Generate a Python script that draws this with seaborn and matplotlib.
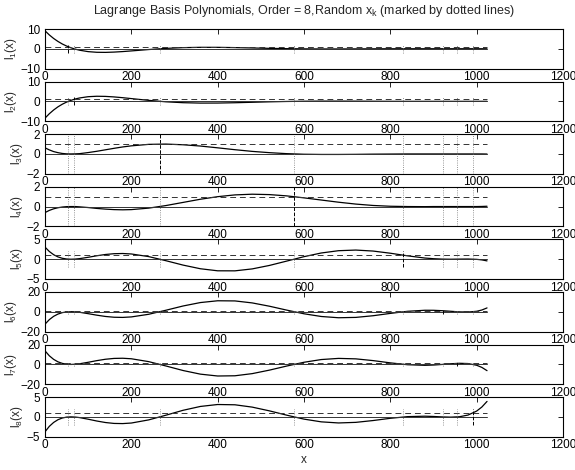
import numpy as np
import pandas as pd
import matplotlib
matplotlib.use('Agg')
from matplotlib import pyplot as plt
import seaborn as sns

sns.set_style('white')
plt.rcParams['font.family'] = ['Liberation Sans', 'DejaVu Sans']
plt.rcParams['mathtext.fontset'] = 'custom'
plt.rcParams['mathtext.rm'] = 'Liberation Sans'
plt.rcParams['mathtext.it'] = 'Liberation Sans'

# node positions x_k (dotted lines)
x_nodes = [54, 67, 266, 577, 830, 923, 955, 992]
y_lims = [10, 10, 2, 2, 5, 20, 20, 5]

# sample positions along x and curve values read for each basis polynomial
x_vals = [0, 10, 20, 30, 40, 50, 60, 70, 80, 100, 120, 140, 160, 180, 200,
          240, 280, 320, 360, 400, 440, 480, 520, 560, 600, 640, 680, 720,
          760, 800, 840, 880, 900, 920, 940, 960, 980, 1000, 1012, 1024]
l1 = [9.09, 7.00, 5.21, 3.70, 2.42, 1.37, 0.50, -0.19, -0.74, -1.46, -1.79, -1.84, -1.69, -1.43, -1.10,
      -0.40, 0.18, 0.56, 0.72, 0.71, 0.58, 0.39, 0.20, 0.05, -0.05, -0.10, -0.10, -0.07,
      -0.04, -0.01, 0.00, 0.00, 0.00, 0.00, 0.00, 0.00, 0.00, 0.00, -0.01, -0.02]
l2 = [-8.50, -6.27, -4.38, -2.78, -1.46, -0.37, 0.50, 1.19, 1.71, 2.36, 2.58, 2.51, 2.24, 1.85, 1.40,
      0.50, -0.23, -0.68, -0.88, -0.86, -0.70, -0.47, -0.24, -0.06, 0.06, 0.12, 0.12, 0.09,
      0.05, 0.01, 0.00, 0.00, 0.00, 0.00, 0.00, 0.00, 0.00, 0.00, 0.01, 0.02]
l3 = [0.62, 0.41, 0.24, 0.13, 0.05, 0.01, 0.00, 0.01, 0.03, 0.14, 0.27, 0.42, 0.57, 0.71, 0.82,
      0.97, 1.00, 0.93, 0.80, 0.62, 0.43, 0.26, 0.13, 0.03, -0.03, -0.05, -0.05, -0.04,
      -0.02, -0.01, 0.00, 0.00, 0.00, 0.00, 0.00, 0.00, 0.00, 0.00, 0.00, -0.01]
l4 = [-0.61, -0.39, -0.23, -0.12, -0.05, -0.01, 0.00, 0.00, -0.03, -0.10, -0.19, -0.26, -0.31, -0.33, -0.31,
      -0.16, 0.10, 0.42, 0.74, 1.00, 1.18, 1.25, 1.21, 1.08, 0.88, 0.66, 0.44, 0.25,
      0.11, 0.03, 0.00, -0.01, 0.00, 0.00, 0.00, 0.00, 0.00, 0.00, 0.01, 0.03]
l5 = [3.05, 1.94, 1.13, 0.57, 0.22, 0.04, -0.02, 0.02, 0.13, 0.47, 0.86, 1.18, 1.38, 1.43, 1.31,
      0.65, -0.39, -1.51, -2.43, -2.95, -2.96, -2.47, -1.59, -0.49, 0.63, 1.56, 2.14, 2.30,
      2.05, 1.50, 0.84, 0.28, 0.11, 0.01, -0.02, 0.01, 0.03, -0.05, -0.19, -0.44]
l6 = [-12.57, -7.98, -4.64, -2.35, -0.91, -0.15, 0.08, -0.09, -0.54, -1.93, -3.47, -4.77, -5.56, -5.73, -5.24,
      -2.58, 1.52, 5.85, 9.31, 11.12, 10.96, 8.95, 5.60, 1.65, -2.05, -4.80, -6.07, -5.72,
      -4.03, -1.67, 0.46, 1.51, 1.47, 1.08, 0.47, -0.13, -0.32, 0.48, 1.76, 3.88]
l7 = [13.68, 8.68, 5.05, 2.55, 0.99, 0.16, -0.09, 0.10, 0.58, 2.09, 3.76, 5.16, 6.01, 6.18, 5.65,
      2.77, -1.63, -6.26, -9.92, -11.80, -11.57, -9.40, -5.84, -1.71, 2.11, 4.86, 6.03, 5.56,
      3.80, 1.50, -0.38, -0.98, -0.69, -0.10, 0.60, 1.07, 0.81, -0.93, -3.09, -6.39]
l8 = [-3.76, -2.38, -1.39, -0.70, -0.27, -0.04, 0.02, -0.03, -0.16, -0.57, -1.03, -1.41, -1.64, -1.68, -1.54,
      -0.75, 0.44, 1.69, 2.66, 3.15, 3.08, 2.49, 1.54, 0.45, -0.55, -1.24, -1.52, -1.37,
      -0.91, -0.34, 0.08, 0.19, 0.12, 0.01, -0.05, 0.05, 0.48, 1.49, 2.51, 3.93]
curves = [l1, l2, l3, l4, l5, l6, l7, l8]

fig = plt.figure(figsize=(5.75, 4.7), dpi=100)
W, H = 575, 470
x_end = x_vals[-1]
for k in range(8):
  top = 29 + 52.6 * k
  ax = fig.add_axes([45 / W, 1 - (top + 39.5) / H, 518 / W, 39.5 / H])
  ax.set_facecolor('none')
  df = pd.DataFrame({'x': x_vals, 'l': curves[k]})
  sns.lineplot(data=df, x='x', y='l', ax=ax, color='k', lw=0.9)
  ax.plot([0, x_end], [0, 0], color='0.2', lw=0.7)
  ax.plot([0, x_end], [1, 1], '--', color='0.2', lw=0.7, dashes=(6, 4))
  for j, xj in enumerate(x_nodes):
    if j == k:
      ax.plot([xj, xj], [-2, 2], '--', color='k', lw=0.7)
    else:
      ax.plot([xj, xj], [-2, 2], ':', color='0.45', lw=0.6)
  L = y_lims[k]
  ax.set_xlim(0, 1200)
  ax.set_ylim(-L, L)
  ax.set_xticks(range(0, 1201, 200))
  ax.set_yticks([-L, 0, L])
  ax.tick_params(direction='in', top=True, right=True, length=3.5, width=0.6,
                 labelsize=8.5, pad=2, colors='k')
  ax.tick_params(axis='y', pad=3.5)
  for s in ax.spines.values():
    s.set_color('k')
    s.set_linewidth(0.8)
  ax.set_ylabel(r'l$_{%d}$(x)' % (k + 1), fontsize=8.5, labelpad=1)
  ax.set_xlabel('x' if k == 7 else '', fontsize=8.5, labelpad=2)

fig.text(304 / W, 1 - 11 / H, r'Lagrange Basis Polynomials, Order = 8,Random x$_{\rm k}$ (marked by dotted lines)',
         ha='center', va='center', fontsize=9)
fig.savefig('out.png', dpi=100, facecolor='white')
